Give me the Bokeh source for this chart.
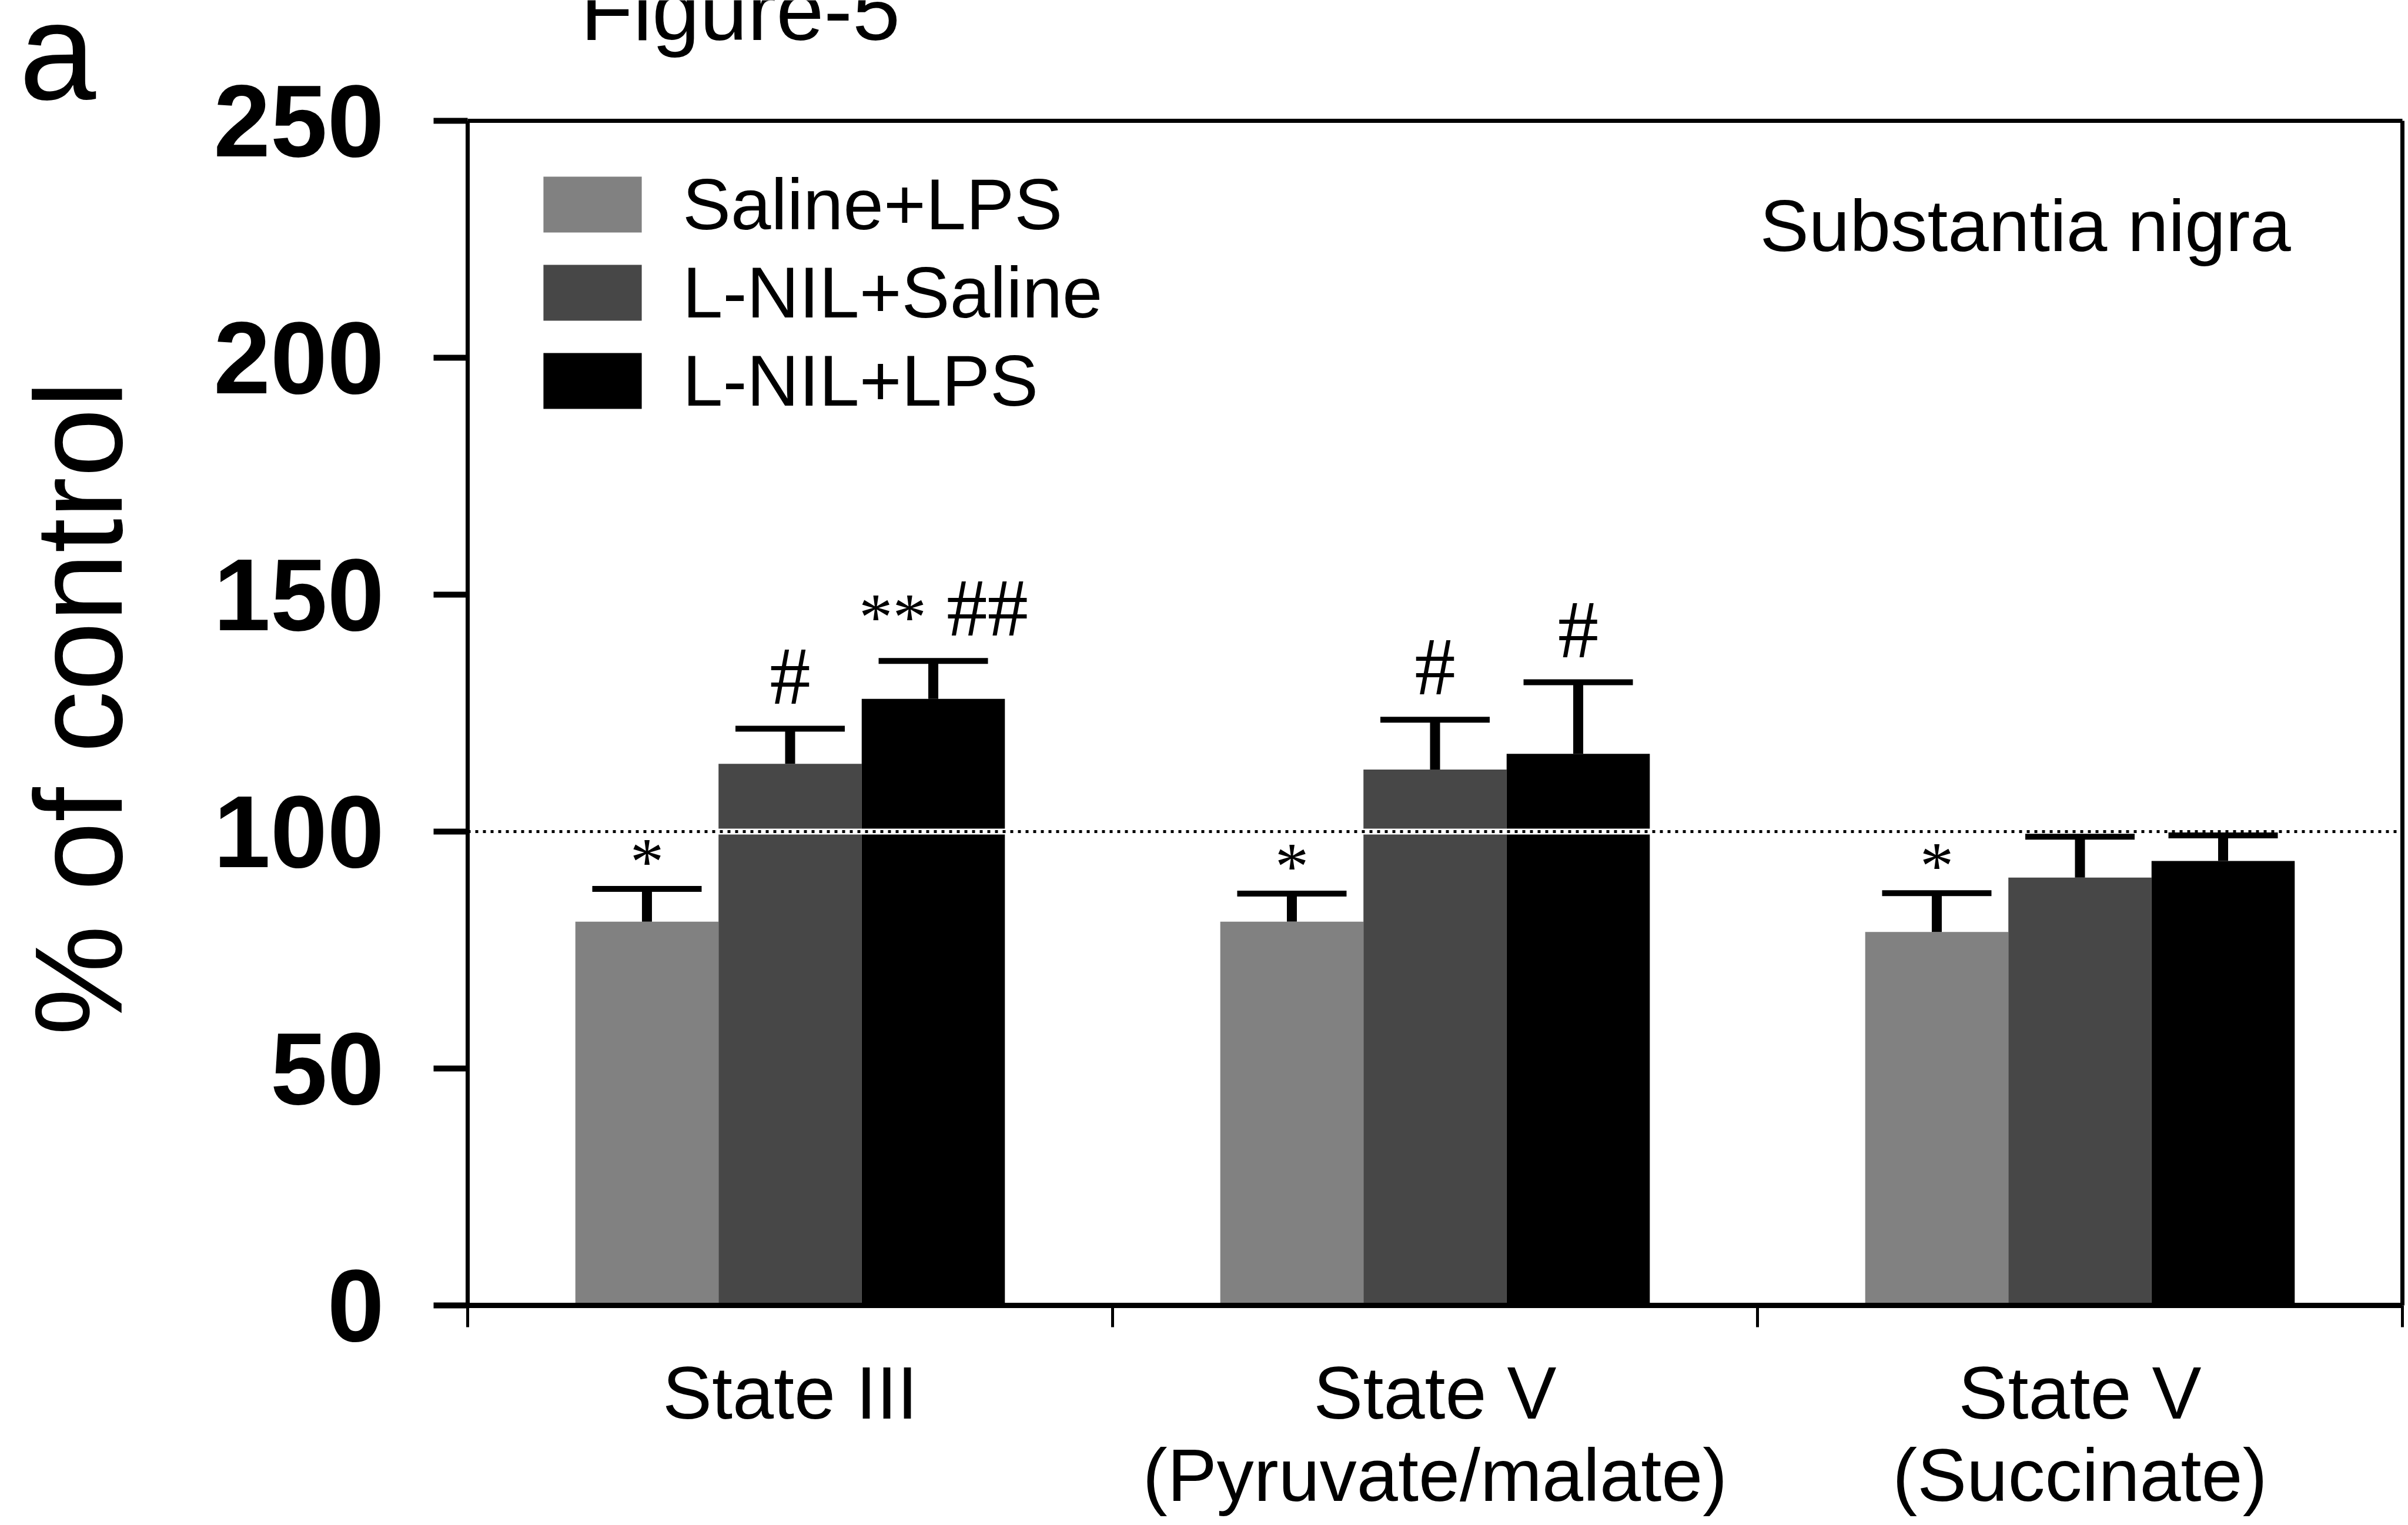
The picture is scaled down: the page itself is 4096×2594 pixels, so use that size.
import math
from bokeh.plotting import figure
from bokeh.models import (Range1d, ColumnDataSource, Whisker, TeeHead,
                          Label, FixedTicker, LinearAxis)
from bokeh.core.properties import value
from bokeh.embed import file_html
from bokeh.resources import INLINE

# ---------------- data ----------------
categories = ["State III", "State V (Pyruvate/malate)", "State V (Succinate)"]
category_line1 = ["State III", "State V", "State V"]
category_line2 = ["", "(Pyruvate/malate)", "(Succinate)"]

series_names = ["Saline+LPS", "L-NIL+Saline", "L-NIL+LPS"]
series_colors = ["#818181", "#474747", "#000000"]

saline_lps = [81.0, 81.0, 78.8]
lnil_saline = [114.3, 113.1, 90.3]
lnil_lps = [128.0, 116.4, 93.8]

saline_lps_sem = [6.9, 5.9, 8.2]
lnil_saline_sem = [7.4, 10.5, 8.6]
lnil_lps_sem = [8.0, 15.1, 5.4]

saline_lps_star = ["*", "*", "*"]
lnil_saline_star = ["", "", ""]
lnil_lps_star = ["**", "", ""]
saline_lps_hash = ["", "", ""]
lnil_saline_hash = ["#", "#", ""]
lnil_lps_hash = ["##", "#", ""]

y_ticks = [0, 50, 100, 150, 200, 250]
control_level = 100
y_label = "% of control"
region_label = "Substantia nigra"
panel_letter = "a"
figure_title = "Figure-5"

means = [saline_lps, lnil_saline, lnil_lps]
sems = [saline_lps_sem, lnil_saline_sem, lnil_lps_sem]
stars = [saline_lps_star, lnil_saline_star, lnil_lps_star]
hashes = [saline_lps_hash, lnil_saline_hash, lnil_lps_hash]

# ---------------- layout ----------------
W, H = 4096, 2594
# where the data rectangle (x 0..3, y 0..250) sits on the canvas
FL, FR, FT, FB = 795, 4086, 205, 2220
Y0, Y1 = 0, 250
NCAT = len(categories)
XPX = NCAT / (FR - FL)        # data units per pixel (x)
YPX = (Y1 - Y0) / (FB - FT)   # data units per pixel (y)
BSHIFT = 0.36                 # measured baseline shift of rendered text (em)


def dx(px):
    return (px - FL) * XPX


def dy(py):
    return (FB - py) * YPX + Y0


def base_y(py, fs):
    """data y of a text anchor whose baseline must land on canvas row py"""
    return dy(py - BSHIFT * fs)


p = figure(width=W, height=H,
           x_range=Range1d(dx(0), dx(W)), y_range=Range1d(dy(H), dy(0)),
           output_backend="svg", toolbar_location=None,
           x_axis_location=None, y_axis_location=None,
           min_border=0, min_border_left=0, min_border_right=0,
           min_border_top=0, min_border_bottom=0)
p.background_fill_color = "white"
p.border_fill_color = "white"
p.outline_line_color = None
for g in p.grid:
    g.visible = False

# y axis
yax = LinearAxis(fixed_location=0, bounds=(Y0, Y1), ticker=FixedTicker(ticks=y_ticks))
yax.minor_tick_line_color = None
yax.major_tick_in = 0
yax.major_tick_out = 58
yax.major_tick_line_width = 10
yax.axis_line_width = 7
yax.major_label_text_font = "Liberation Sans"
yax.major_label_text_font_style = "bold"
yax.major_label_text_font_size = "174px"
yax.major_label_text_color = "black"
yax.major_label_standoff = 84
p.add_layout(yax, "left")

# x axis (ticks at category boundaries, no labels)
xax = LinearAxis(fixed_location=0, bounds=(0, NCAT),
                 ticker=FixedTicker(ticks=list(range(NCAT + 1))))
xax.minor_tick_line_color = None
xax.major_tick_in = 0
xax.major_tick_out = 37
xax.major_tick_line_width = 5
xax.axis_line_width = 9
xax.major_label_text_color = None
p.add_layout(xax, "below")

# frame top / right
tax = LinearAxis(fixed_location=Y1, bounds=(0, NCAT), ticker=FixedTicker(ticks=[]))
tax.axis_line_width = 7
tax.major_label_text_color = None
tax.major_tick_line_color = None
tax.minor_tick_line_color = None
p.add_layout(tax, "above")
rax = LinearAxis(fixed_location=NCAT, bounds=(Y0, Y1), ticker=FixedTicker(ticks=[]))
rax.axis_line_width = 7
rax.major_label_text_color = None
rax.major_tick_line_color = None
rax.minor_tick_line_color = None
p.add_layout(rax, "right")

bar_w = 0.222
offsets = [-bar_w, 0.0, bar_w]

for s, name in enumerate(series_names):
    xs = [i + 0.5 + offsets[s] for i in range(NCAT)]
    src = ColumnDataSource(dict(x=xs, top=means[s]))
    p.vbar(x="x", top="top", width=bar_w, bottom=0, source=src,
           fill_color=series_colors[s], line_color=None, legend_label=name)

# control line at 100 %
p.line(x=[0, NCAT], y=[control_level, control_level], line_color="white", line_width=10)
p.line(x=[0, NCAT], y=[control_level, control_level], line_color="black",
       line_width=5, line_dash="5 8")

# error bars (upper only)
for s in range(len(series_names)):
    xs = [i + 0.5 + offsets[s] for i in range(NCAT)]
    uppers = [m + e for m, e in zip(means[s], sems[s])]
    src = ColumnDataSource(dict(base=xs, lower=means[s], upper=uppers))
    wk = Whisker(base="base", lower="lower", upper="upper", source=src,
                 dimension="height", line_color="black", line_width=17,
                 lower_head=None,
                 upper_head=TeeHead(size=186, line_width=10, line_color="black"),
                 level="overlay")
    p.add_layout(wk)

# significance marks (positions derived from bar + error)
sx, sy, st = [], [], []
hx, hy, ht = [], [], []
for s in range(len(series_names)):
    for i in range(NCAT):
        x = i + 0.5 + offsets[s]
        y = means[s][i] + sems[s][i]
        both = bool(stars[s][i]) and bool(hashes[s][i])
        if stars[s][i]:
            sx.append(x + (-69 * XPX if both else 0))
            sy.append(y + (75 if both else 47) * YPX)
            st.append(stars[s][i])
        if hashes[s][i]:
            hx.append(x + (92 * XPX if both else 0))
            hy.append(y + 90 * YPX)
            ht.append(hashes[s][i])

p.text(x="x", y="y", text="text",
       source=ColumnDataSource(dict(x=sx, y=sy, text=st)),
       text_font=value("Liberation Serif"), text_font_size="115px",
       text_align="center", text_baseline="alphabetic", text_color="black")
p.text(x="x", y="y", text="text",
       source=ColumnDataSource(dict(x=hx, y=hy, text=ht)),
       text_font=value("Liberation Serif"), text_font_size="139px",
       text_align="center", text_baseline="alphabetic", text_color="black")

# legend
lg = p.legend[0]
lg.location = (903, 1876)
lg.glyph_width = 209
lg.glyph_height = 119
lg.label_height = 119
lg.label_standoff = 49
lg.spacing = 9
lg.padding = 0
lg.margin = 0
lg.border_line_color = None
lg.background_fill_alpha = 0
lg.label_text_font = "Liberation Sans"
lg.label_text_font_size = "123px"
lg.label_text_color = "black"

# category labels (two lines)
CAT_FS = 126
for i in range(NCAT):
    for txt, base in ((category_line1[i], 2414), (category_line2[i], 2554)):
        if txt:
            p.add_layout(Label(x=i + 0.5, y=base_y(base, CAT_FS), text=txt,
                               text_align="center", text_baseline="alphabetic",
                               text_font="Liberation Sans",
                               text_font_size=f"{CAT_FS}px", text_color="black"))

# y axis title (rotated; baseline on canvas column 209)
YT_FS = 211
p.add_layout(Label(x=dx(209 - BSHIFT * YT_FS), y=dy(1204), text=y_label,
                   angle=math.pi / 2, text_align="center", text_baseline="alphabetic",
                   text_font="Liberation Sans", text_font_size=f"{YT_FS}px",
                   text_color="black"))

# region label
p.add_layout(Label(x=dx(2993), y=base_y(428, 125), text=region_label, text_align="left",
                   text_baseline="alphabetic", text_font="Liberation Sans",
                   text_font_size="125px", text_color="black"))

# panel letter and figure title
p.add_layout(Label(x=dx(32), y=base_y(172, 235), text=panel_letter, text_align="left",
                   text_baseline="alphabetic", text_font="Liberation Sans",
                   text_font_size="235px", text_color="black"))
p.add_layout(Label(x=dx(987), y=base_y(70, 146), text=figure_title, text_align="left",
                   text_baseline="alphabetic", text_font="Liberation Sans",
                   text_font_size="146px", text_color="black"))

open("out.html", "w").write(file_html(p, INLINE))
